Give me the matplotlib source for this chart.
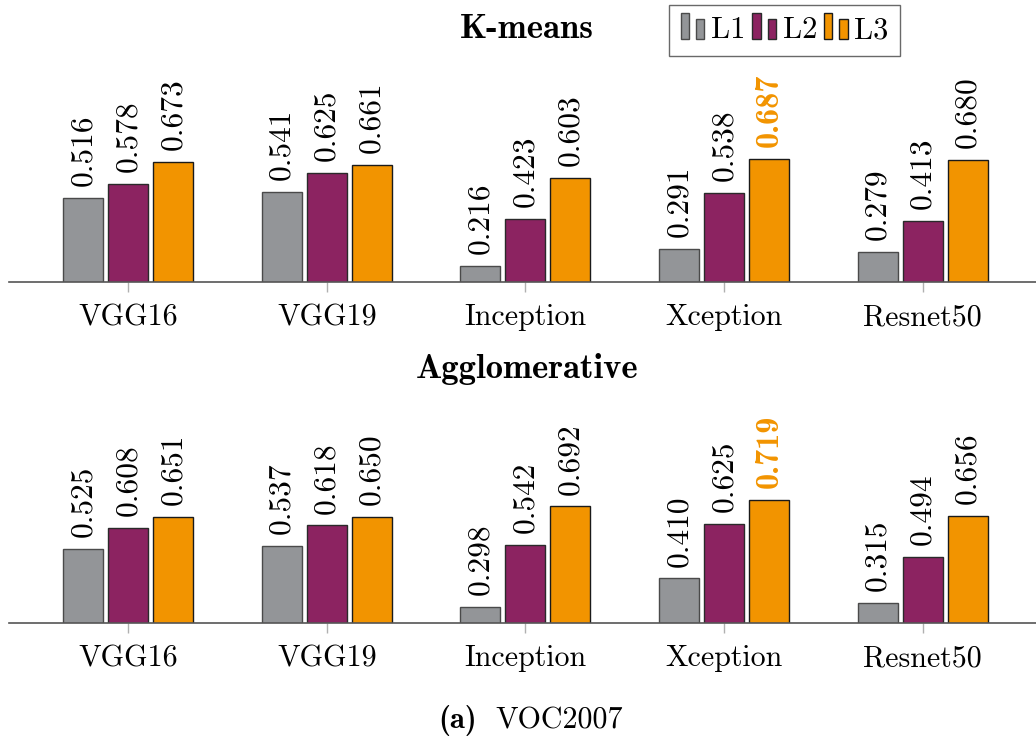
import matplotlib
matplotlib.use("Agg")
import matplotlib.pyplot as plt
from matplotlib.patches import Rectangle
from matplotlib.legend_handler import HandlerBase
import numpy as np

plt.rcParams['font.family'] = ['cmr10', 'DejaVu Serif']
plt.rcParams['axes.formatter.use_mathtext'] = True
plt.rcParams['mathtext.fontset'] = 'cm'

models = ["VGG16", "VGG19", "Inception", "Xception", "Resnet50"]
series = ["L1", "L2", "L3"]
kmeans_L1 = [0.516, 0.541, 0.216, 0.291, 0.279]
kmeans_L2 = [0.578, 0.625, 0.423, 0.538, 0.413]
kmeans_L3 = [0.673, 0.661, 0.603, 0.687, 0.680]
agglo_L1 = [0.525, 0.537, 0.298, 0.410, 0.315]
agglo_L2 = [0.608, 0.618, 0.542, 0.625, 0.494]
agglo_L3 = [0.651, 0.650, 0.692, 0.719, 0.656]

colors = ["#939598", "#8C2361", "#F29400"]
edges = ["#4a4a4a", "#2a2a2a", "#1a1a1a"]

W, H = 1036, 742
fig = plt.figure(figsize=(W / 100, H / 100), dpi=100)

FS = 21.6
FSV = 22.6
FSB = 25


def make_axes(base_px, height_px, ymin, scale):
    left = 9 / W
    width = (W - 9) / W
    ax = fig.add_axes([left, (H - base_px) / H, width, height_px / H])
    ax.set_ylim(ymin, ymin + height_px / scale)
    ax.set_xlim(-0.6, 4.57)
    return ax


def draw(ax, data, title, title_y):
    x = np.arange(len(models))
    bw = 40 / 198.7
    off = 45 / 198.7
    overall = max(max(d) for d in data)
    for i, vals in enumerate(data):
        pos = x + (i - 1) * off
        ax.bar(pos, vals, width=bw, color=colors[i], edgecolor=edges[i],
               linewidth=1.0, zorder=2)
        for p, v in zip(pos, vals):
            bold = (i == 2 and v == overall)
            ax.annotate(f"{v:.3f}", (p, v), xytext=(0, 8.5),
                        textcoords="offset points", rotation=90,
                        ha="center", va="bottom",
                        fontsize=FSV * 1.03 if bold else FSV,
                        color=colors[2] if bold else "black",
                        family="cmb10" if bold else "cmr10")
    for s in ["left", "right", "top"]:
        ax.spines[s].set_visible(False)
    ax.spines["bottom"].set_color("#555555")
    ax.spines["bottom"].set_linewidth(1.2)
    ax.set_yticks([])
    ax.set_xticks(x)
    ax.set_xticklabels(models, fontsize=FS)
    ax.tick_params(axis="x", length=7.5, width=1.0, color="#b0b0b0", pad=8.3)
    fig.text(527 / W, 1 - title_y / H, title, ha="center", va="center",
             fontsize=FSB, family="cmb10")


ax1 = make_axes(282, 222, 0.146, 228)
draw(ax1, [kmeans_L1, kmeans_L2, kmeans_L3], "K-means", 29)
ax2 = make_axes(623, 223, 0.235, 255)
draw(ax2, [agglo_L1, agglo_L2, agglo_L3], "Agglomerative", 369)

fig.text(477 / W, 1 - 721 / H, "(a)", ha="right", va="center",
         fontsize=22, family="cmb10")
fig.text(495 / W, 1 - 721 / H, "VOC2007", ha="left", va="center",
         fontsize=FS, family="cmr10")


class TwoBarHandler(HandlerBase):
    def create_artists(self, legend, orig_handle, xdescent, ydescent,
                       width, height, fontsize, trans):
        fc = orig_handle.get_facecolor()
        ec = orig_handle.get_edgecolor()
        bw = width * 0.36
        x0 = -xdescent
        y0 = -ydescent - height * 0.05
        r1 = Rectangle((x0, y0), bw, height * 1.2,
                       facecolor=fc, edgecolor=ec, lw=1.0, transform=trans)
        r2 = Rectangle((x0 + width - bw, y0), bw, height * 0.92,
                       facecolor=fc, edgecolor=ec, lw=1.0, transform=trans)
        return [r1, r2]


handles = [Rectangle((0, 0), 1, 1, facecolor=colors[i], edgecolor=edges[i])
           for i in range(3)]
leg = fig.legend(handles, series, loc="upper left",
                 bbox_to_anchor=(669 / W, 1 - 5 / H), ncol=3, fontsize=22,
                 handler_map={Rectangle: TwoBarHandler()},
                 frameon=True, fancybox=False, edgecolor="#444444",
                 handlelength=0.78, handletextpad=0.22, columnspacing=0.22,
                 borderpad=0.38, borderaxespad=0)
leg.get_frame().set_linewidth(1.0)

fig.savefig("out.png", dpi=100)
